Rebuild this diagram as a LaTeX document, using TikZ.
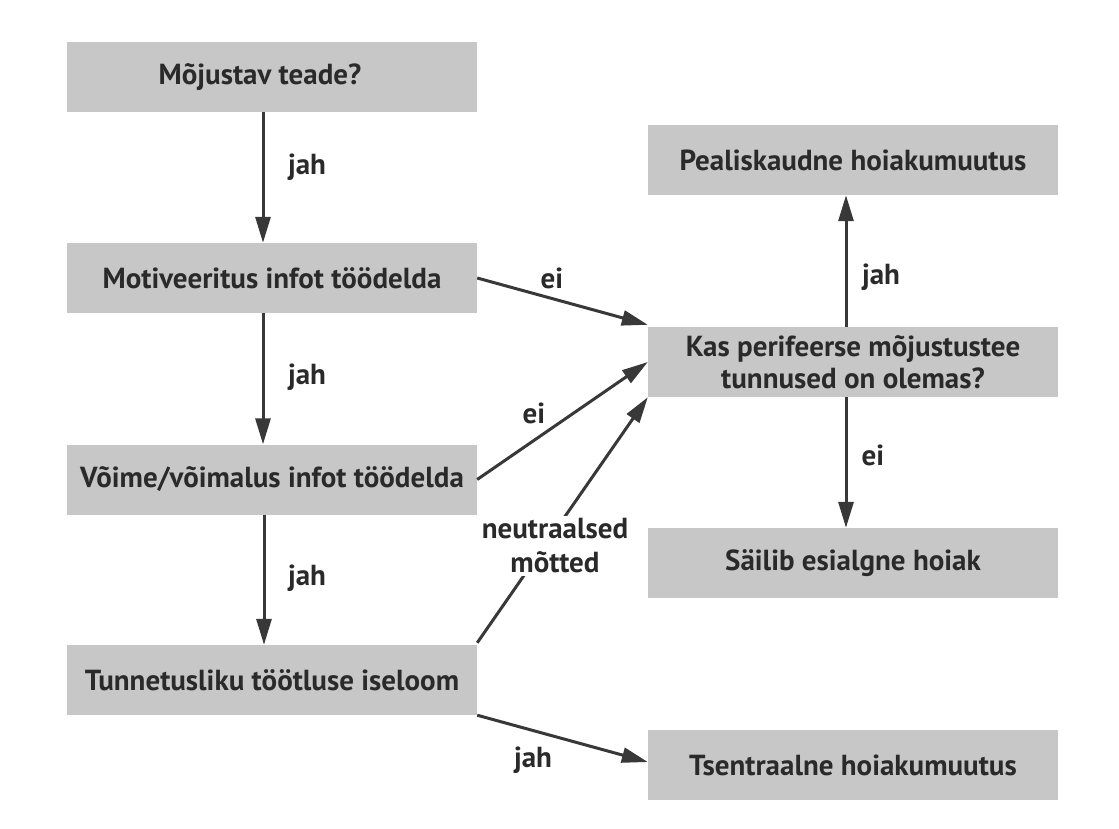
\documentclass[tikz,border=0pt]{standalone}
\usepackage{fontspec}
\setmainfont{PT Sans}
\usetikzlibrary{arrows.meta}
\definecolor{boxgray}{HTML}{C7C7C7}
\definecolor{txt}{HTML}{2A2A2A}
\definecolor{arr}{HTML}{383838}
\tikzset{
  flowbox/.style={fill=boxgray, minimum width=410pt, minimum height=70pt, inner sep=0pt,
    text=txt, font=\fontsize{29}{32}\selectfont\bfseries, align=center},
  lbl/.style={text=txt, font=\fontsize{29}{34}\selectfont\bfseries, inner sep=1pt, align=center},
  conn/.style={draw=arr, line width=3pt, -{Triangle[length=26pt,width=15pt]}},
}
\begin{document}
\begin{tikzpicture}[x=1pt,y=-1pt]
\useasboundingbox (0,0) rectangle (1119,828);
\fill[white] (0,0) rectangle (1119,828);
% left column
\node[flowbox] (b1) at (272,77) {\hspace*{-24pt}Mõjustav teade?};
\node[flowbox] (b2) at (272,278) {Motiveeritus infot töödelda};
\node[flowbox] (b3) at (272,479.5) {Võime/võimalus infot töödelda};
\node[flowbox] (b4) at (272,680) {Tunnetusliku töötluse iseloom};
% right column
\node[flowbox] (peal) at (853,160) {Pealiskaudne hoiakumuutus};
\node[flowbox] (kas) at (853,362) {Kas perifeerse mõjustustee\\tunnused on olemas?};
\node[flowbox] (sail) at (853,563) {Säilib esialgne hoiak};
\node[flowbox] (tsen) at (853,765) {Tsentraalne hoiakumuutus};
% vertical connectors
\draw[conn] ([xshift=-9pt]b1.south) -- ([xshift=-9pt]b2.north);
\draw[conn] ([xshift=-9pt]b2.south) -- ([xshift=-9pt]b3.north);
\draw[conn] ([xshift=-8pt]b3.south) -- ([xshift=-8pt]b4.north);
\draw[conn] ([xshift=-7pt]kas.north) -- ([xshift=-7pt]peal.south);
\draw[conn] ([xshift=-7pt]kas.south) -- ([xshift=-7pt]sail.north);
% diagonal connectors
\draw[conn] (b2.east) -- ([yshift=2pt]kas.north west);
\draw[conn] (b3.east) -- (kas.west);
\draw[conn] ([yshift=2pt]b4.north east) -- (kas.south west);
\draw[conn] (b4.south east) -- ([yshift=3pt]tsen.west);
% labels
\node[lbl] (l1) at (307,167) {jah};
\node[lbl] (l2) at (307,377) {jah};
\node[lbl] (l3) at (307,578) {jah};
\node[lbl] (l4) at (552,278) {ei};
\node[lbl] (l5) at (534,413) {ei};
\node[lbl, fill=white, inner sep=3pt] (l6) at (555,546) {neutraalsed\\mõtted};
\node[lbl] (l7) at (533,760) {jah};
\node[lbl] (l8) at (881,277) {jah};
\node[lbl] (l9) at (873,455) {ei};
\end{tikzpicture}
\end{document}
